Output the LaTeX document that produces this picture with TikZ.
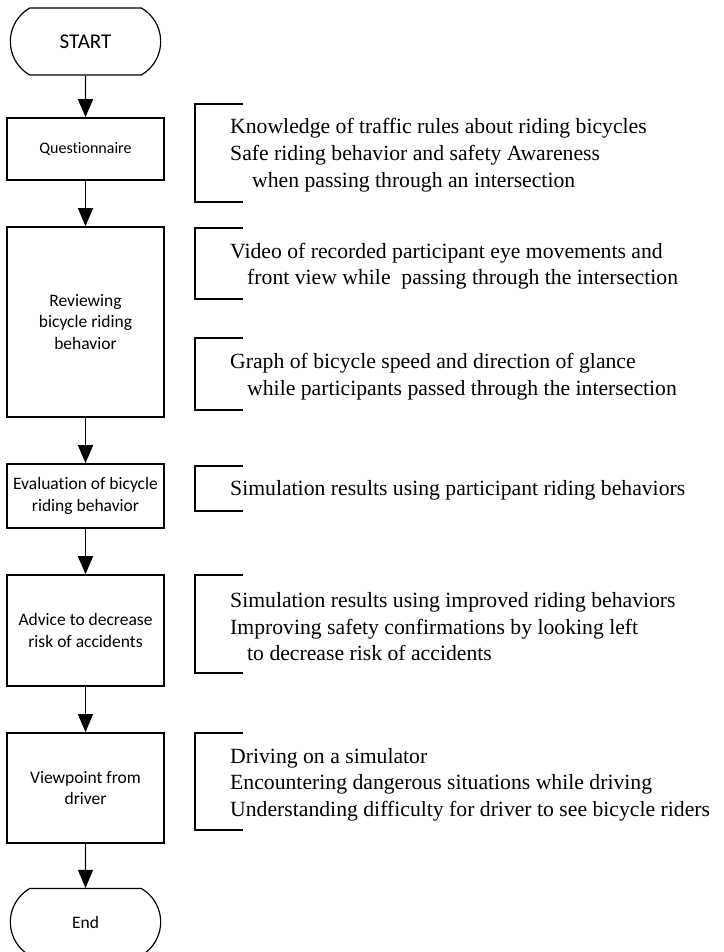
\documentclass[tikz,border=0pt]{standalone}
\usepackage{fontspec}
\setmainfont{Liberation Serif}
\newfontfamily\boxfont[Ligatures=NoCommon]{Carlito}
\usetikzlibrary{positioning,arrows.meta,shapes.misc}

\newcommand{\boxtext}{\boxfont\fontsize{17.5}{21.5}\selectfont}
\newcommand{\notetext}{\fontsize{21.7}{26.8}\selectfont}

\begin{document}
\begin{tikzpicture}[
    x=1pt,y=-1pt,
    term/.style={rounded rectangle,rounded rectangle arc length=120,draw,line width=1.2pt,
                 minimum width=157pt,minimum height=67pt,font=\boxtext},
    proc/.style={rectangle,draw,line width=1.6pt,minimum width=157pt,inner sep=2pt,
                 align=center,font=\boxtext},
    flow/.style={line width=1.4pt,-{Triangle[length=18pt,width=15pt]}},
    brk/.style={line width=1.6pt},
    note/.style={anchor=west,align=left,inner sep=0pt,font=\notetext}
]
\useasboundingbox (0,0) rectangle (723,952);

% main flow
\node[term,font=\boxfont\fontsize{21}{25}\selectfont] (start) at (85.5,41.5) {START};
\node[proc,minimum height=62pt,font=\boxfont\fontsize{16}{20}\selectfont] (quest) at (85.5,149) {Questionnaire};
\node[proc,minimum height=190pt] (review) at (85.5,322)   {Reviewing\\bicycle riding\\behavior};
\node[proc,minimum height=64pt]  (eval)   at (85.5,496)   {Evaluation of bicycle\\riding behavior};
\node[proc,minimum height=111pt] (advice) at (85.5,630.5) {Advice to decrease\\risk of accidents};
\node[proc,minimum height=110pt] (view)   at (85.5,788)   {Viewpoint from\\driver};
\node[term] (end) at (85.5,922) {End};

\draw[flow] (start) -- (quest);
\draw[flow] (quest) -- (review);
\draw[flow] (review) -- (eval);
\draw[flow] (eval) -- (advice);
\draw[flow] (advice) -- (view);
\draw[flow] (view) -- (end);

% brackets
\draw[brk] (243,104) -| (195,202) -- (243,202);
\draw[brk] (243,228) -| (195,299) -- (243,299);
\draw[brk] (243,338) -| (195,410) -- (243,410);
\draw[brk] (243,466) -| (195,511) -- (243,511);
\draw[brk] (243,575) -| (195,673) -- (243,673);
\draw[brk] (243,733) -| (195,830) -- (243,830);

% notes
\node[note] (nquest) at (230,155) {Knowledge of traffic rules about riding bicycles\\
  Safe riding behavior and safety Awareness\\
  \hspace*{22pt}when passing through an intersection};
\node[note] (nvideo) at (230,266.2) {Video of recorded participant eye movements and\\
  \hspace*{17pt}front view while\ \ passing through the intersection};
\node[note] (ngraph) at (230,376.7) {Graph of bicycle speed and direction of glance\\
  \hspace*{17pt}while participants passed through the intersection};
\node[note] (neval) at (230,490.2) {Simulation results using participant riding behaviors};
\node[note] (nadvice) at (230,626.7) {Simulation results using improved riding behaviors\\
  Improving safety confirmations by looking left\\
  \hspace*{17pt}to decrease risk of accidents};
\node[note] (nview) at (230,784.7) {Driving on a simulator\\
  Encountering dangerous situations while driving\\
  Understanding difficulty for driver to see bicycle riders};

\end{tikzpicture}
\end{document}
